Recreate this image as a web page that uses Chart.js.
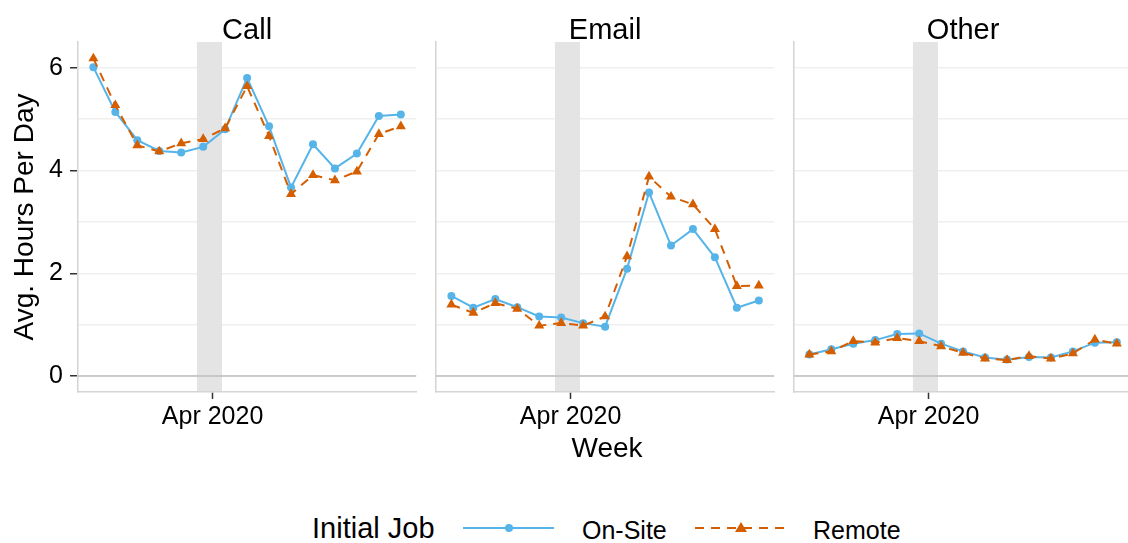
<!DOCTYPE html>
<html>
<head>
<meta charset="utf-8">
<script src="https://cdn.jsdelivr.net/npm/chart.js@4.4.1/dist/chart.umd.min.js"></script>
<style>
body { margin: 0; background: #fff; overflow: hidden; }
#wrap { position: relative; width: 1128px; height: 543px; overflow: hidden; background: #fff;
        font-family: "Liberation Sans", Arial, sans-serif; color: #000; }
#wrap canvas { position: absolute; top: 0; }
.txt { position: absolute; white-space: nowrap; line-height: 1; }
</style>
</head>
<body>
<div id="wrap">
  <canvas id="c0" width="422" height="480" style="left:0px"></canvas>
  <canvas id="c1" width="350" height="480" style="left:430px"></canvas>
  <canvas id="c2" width="350" height="480" style="left:788px"></canvas>

  <div class="txt" style="left:507px; width:200px; text-align:center; top:434px; font-size:28px;">Week</div>

  <svg style="position:absolute; left:0; top:500px;" width="1128" height="43">
    <line x1="463" y1="28" x2="554" y2="28" stroke="#56B4E9" stroke-width="2"/>
    <circle cx="509" cy="28" r="4" fill="#56B4E9"/>
    <line x1="695" y1="28" x2="786" y2="28" stroke="#D55E00" stroke-width="2" stroke-dasharray="9 7"/>
    <polygon points="741,22 747,32 735,32" fill="#D55E00"/>
  </svg>
  <div class="txt" style="left:312px; top:514px; font-size:29px;">Initial Job</div>
  <div class="txt" style="left:582px; top:518px; font-size:25px;">On-Site</div>
  <div class="txt" style="left:813px; top:518px; font-size:25px;">Remote</div>
</div>

<script>
// weekly points (week start)
const weeks = ['2020-02-23', '2020-03-01', '2020-03-08', '2020-03-15', '2020-03-22',
               '2020-03-29', '2020-04-05', '2020-04-12', '2020-04-19', '2020-04-26',
               '2020-05-03', '2020-05-10', '2020-05-17', '2020-05-24', '2020-05-31'];

const facets = ['Call', 'Email', 'Other'];

const callOnSite  = [6.01, 5.14, 4.59, 4.38, 4.35, 4.46, 4.80, 5.80, 4.86, 3.67, 4.51, 4.04, 4.33, 5.06, 5.09];
const callRemote  = [6.18, 5.27, 4.49, 4.37, 4.53, 4.61, 4.82, 5.64, 4.67, 3.54, 3.91, 3.81, 3.98, 4.71, 4.86];
const emailOnSite = [1.56, 1.33, 1.50, 1.34, 1.16, 1.14, 1.03, 0.96, 2.09, 3.57, 2.54, 2.86, 2.31, 1.33, 1.47];
const emailRemote = [1.39, 1.23, 1.42, 1.31, 0.98, 1.03, 0.98, 1.16, 2.33, 3.88, 3.49, 3.34, 2.86, 1.75, 1.76];
const otherOnSite = [0.42, 0.52, 0.63, 0.70, 0.82, 0.83, 0.63, 0.48, 0.36, 0.32, 0.37, 0.36, 0.48, 0.65, 0.66];
const otherRemote = [0.42, 0.48, 0.68, 0.65, 0.74, 0.68, 0.58, 0.45, 0.34, 0.31, 0.39, 0.34, 0.44, 0.71, 0.63];

const yTicks = [0, 1, 2, 3, 4, 5, 6];
const aprTick = '2020-04-01';
const aprLabel = 'Apr 2020';
const band = ['2020-03-27', '2020-04-04'];   // shaded weeks

const onSiteData = [callOnSite, emailOnSite, otherOnSite];
const remoteData = [callRemote, emailRemote, otherRemote];

const BLUE = '#56B4E9';
const ORANGE = '#D55E00';

Chart.defaults.font.family = '"Liberation Sans", Arial, sans-serif';
Chart.defaults.color = '#000';

const day = d => (Date.parse(d) - Date.parse(weeks[0])) / 864e5;
const pts = vals => vals.map((v, i) => ({x: day(weeks[i]), y: v}));

// band, zero line and strip title
const facetPlugin = {
    id: 'facet',
    beforeDatasetsDraw(chart) {
        const {ctx, chartArea: a, scales} = chart;
        const x0 = scales.x.getPixelForValue(day(band[0]));
        const x1 = scales.x.getPixelForValue(day(band[1]));
        ctx.save();
        ctx.fillStyle = '#e4e4e4';
        ctx.fillRect(x0, a.top, x1 - x0, a.bottom - a.top - 1);
        const y0 = scales.y.getPixelForValue(0);
        ctx.strokeStyle = '#bebebe';
        ctx.lineWidth = 1.6;
        ctx.beginPath();
        ctx.moveTo(a.left, y0);
        ctx.lineTo(a.right, y0);
        ctx.stroke();
        ctx.restore();
    },
    afterDraw(chart, args, opts) {
        const {ctx, chartArea: a} = chart;
        ctx.save();
        ctx.font = '29px "Liberation Sans", Arial, sans-serif';
        ctx.fillStyle = '#000';
        ctx.textAlign = 'center';
        ctx.textBaseline = 'alphabetic';
        ctx.fillText(opts.text, (a.left + a.right) / 2, 39);
        ctx.restore();
    }
};

function makePanel(i) {
    const first = i === 0;
    const ctx = document.getElementById('c' + i).getContext('2d');
    return new Chart(ctx, {
        type: 'line',
        data: {
            datasets: [{
                label: 'On-Site',
                data: pts(onSiteData[i]),
                borderColor: BLUE,
                backgroundColor: BLUE,
                borderWidth: 2,
                pointStyle: 'circle',
                pointRadius: 4,
                pointBorderWidth: 0,
                tension: 0,
                order: 1
            }, {
                label: 'Remote',
                data: pts(remoteData[i]),
                borderColor: ORANGE,
                backgroundColor: ORANGE,
                borderWidth: 2,
                borderDash: [9, 7],
                pointStyle: 'triangle',
                pointRadius: 5.8,
                pointBorderWidth: 0,
                tension: 0,
                order: 0
            }]
        },
        options: {
            responsive: false,
            animation: false,
            events: [],
            devicePixelRatio: 1,
            layout: {padding: {left: 0, right: 2, top: 42, bottom: 0}},
            plugins: {
                legend: {display: false},
                tooltip: {enabled: false},
                facet: {text: facets[i]}
            },
            scales: {
                x: {
                    type: 'linear',
                    min: -4.9,
                    max: 102.9,
                    afterBuildTicks: s => { s.ticks = [{value: day(aprTick)}]; },
                    afterFit: s => { s.height = 480 - 392; },
                    ticks: {
                        callback: () => aprLabel,
                        font: {size: 25},
                        color: '#000',
                        padding: 3,
                        maxRotation: 0,
                        autoSkip: false
                    },
                    grid: {
                        drawOnChartArea: false,
                        drawTicks: true,
                        tickLength: 7,
                        tickColor: '#333',
                        tickWidth: 1.5
                    },
                    border: {display: true, color: '#d4d4d4', width: 1.5}
                },
                y: {
                    type: 'linear',
                    min: -0.31,
                    max: 6.5,
                    afterBuildTicks: s => { s.ticks = yTicks.map(v => ({value: v})); },
                    afterFit: s => { s.width = first ? 78 : 6; },
                    ticks: {
                        display: first,
                        callback: v => (v % 2 === 0 ? String(v) : ''),
                        font: {size: 25},
                        color: '#000',
                        padding: 7
                    },
                    grid: {
                        color: '#efefef',
                        lineWidth: 1.5,
                        drawTicks: first,
                        tickLength: 8,
                        tickWidth: 1.5,
                        tickColor: c => (c.tick && c.tick.value % 2 === 0 ? '#333' : 'rgba(0,0,0,0)')
                    },
                    border: {display: true, color: '#d4d4d4', width: 1.5},
                    title: {
                        display: first,
                        text: 'Avg. Hours Per Day',
                        font: {size: 28},
                        color: '#000',
                        padding: {top: 8, bottom: 0}
                    }
                }
            }
        },
        plugins: [facetPlugin]
    });
}

window.onload = () => {
    facets.forEach((f, i) => makePanel(i));
};
</script>
</body>
</html>
